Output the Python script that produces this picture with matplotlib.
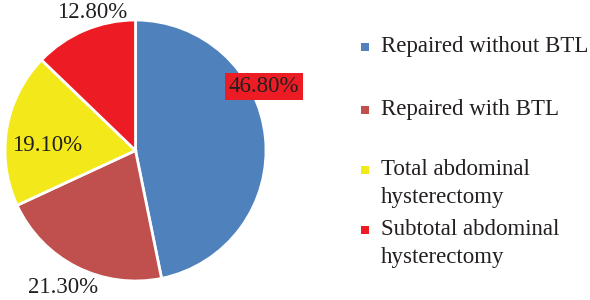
import matplotlib.pyplot as plt
from matplotlib.patches import Rectangle

plt.rcParams['font.family'] = ['Liberation Serif', 'DejaVu Serif']

# Data
categories = ['Repaired without BTL', 'Repaired with BTL',
              'Total abdominal\nhysterectomy', 'Subtotal abdominal\nhysterectomy']
values = [46.8, 21.3, 19.1, 12.8]
pct_labels = ['46.80%', '21.30%', '19.10%', '12.80%']
colors = ['#4F81BD', '#C0504D', '#F2E81A', '#ED1C24']

# label positions relative to pie centre (radius = 1)
label_pos = [(0.985, 0.49), (-0.555, -1.05), (-0.68, 0.04), (-0.33, 1.06)]

fig = plt.figure(figsize=(5.9, 3.0), dpi=100)
ax = fig.add_axes([5 / 590, 19 / 300, 261 / 590, 261 / 300])
ax.pie(values, colors=colors, startangle=90, counterclock=False,
       wedgeprops=dict(edgecolor='white', linewidth=2))
ax.set_xlim(-1, 1)
ax.set_ylim(-1, 1)
ax.set_aspect('equal')

for i, (txt, (x, y)) in enumerate(zip(pct_labels, label_pos)):
    kw = {}
    if i == 0:
        kw['bbox'] = dict(boxstyle='square,pad=0.15', facecolor='#ED1C24', edgecolor='none')
    ax.text(x, y, txt, ha='center', va='center', fontsize=16.5, color='#231F20',
            clip_on=False, **kw)

# legend drawn by hand to match spacing
leg_y = [47, 110, 170, 230]
for lab, col, y in zip(categories, colors, leg_y):
    fig.patches.append(Rectangle(((365 - 4) / 590, 1 - (y + 4) / 300), 8 / 590, 8 / 300,
                                 transform=fig.transFigure, facecolor=col, edgecolor='none'))
    fig.text(381 / 590, 1 - (y - 11) / 300, lab, ha='left', va='top', fontsize=16.5,
             color='#231F20', linespacing=1.45)

fig.savefig('out.png', dpi=100)
